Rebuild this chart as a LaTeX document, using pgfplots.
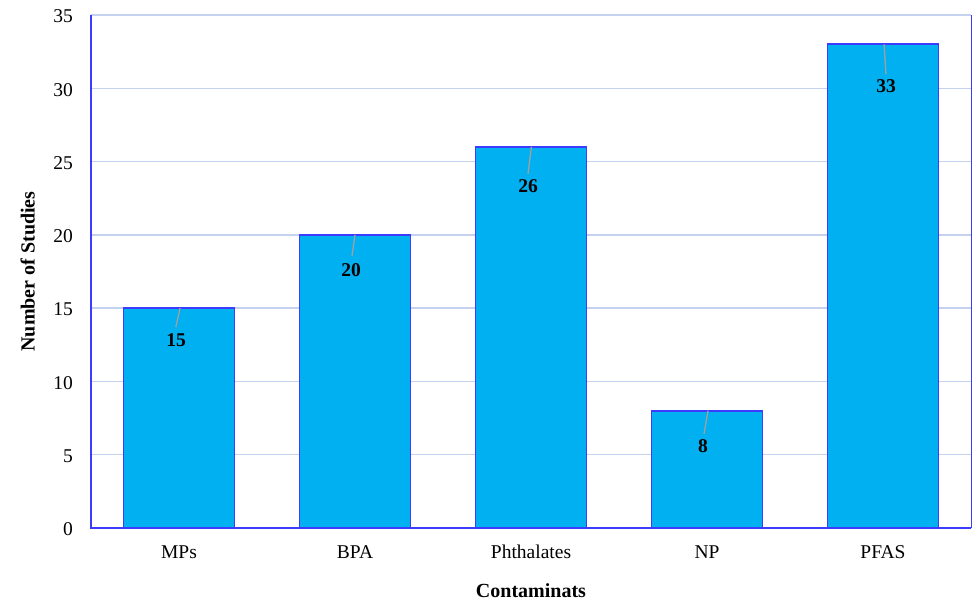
\documentclass[border=0pt]{standalone}
\usepackage{fontspec}
\setmainfont{Liberation Serif}
\usepackage{pgfplots}
\usepackage{pgfplotstable}
\pgfplotsset{compat=1.18}
\definecolor{barfill}{RGB}{0,176,240}
\definecolor{bordc}{RGB}{60,60,255}
\definecolor{gridc}{RGB}{196,210,240}
\definecolor{leadc}{RGB}{160,160,160}

\pgfplotstableread{
x y lx ly
0 15 -3 -32
1 20 -4 -35
2 26 -3 -39.5
3 8 -4 -35
4 33 3 -42
}\bars
\pgfplotstableread{
x y u v
0.006 15 -0.024 -1.30
1.0 20 -0.017 -1.43
2.002 26 -0.019 -1.84
3.006 8 -0.023 -1.57
4.006 33 0.011 -2.05
}\leads

\begin{document}
\begin{tikzpicture}
\begin{axis}[
 width=880pt, height=513pt, scale only axis,
 xmin=-0.5, xmax=4.5, ymin=0, ymax=35,
 xtick={0,...,4}, xticklabels={MPs,BPA,Phthalates,NP,PFAS},
 ytick={0,5,...,35},
 major tick length=0pt,
 ymajorgrids, grid style={gridc, line width=1.4pt},
 axis line style={draw=none},
 /pgf/number format/assume math mode=true,
 tick label style={font=\fontsize{19.5}{22}\selectfont},
 yticklabel style={anchor=east, inner sep=0pt, xshift=-18pt, yshift=-1.5pt},
 xticklabel style={anchor=base, yshift=-30pt},
 xlabel={Contaminats}, ylabel={Number of Studies},
 label style={font=\fontsize{20}{24}\selectfont\bfseries},
 xlabel style={at={(axis description cs:0.5,-0.1345)}, anchor=base},
 ylabel style={at={(axis description cs:-0.064,0.5)}, anchor=base},
 clip=false,
]
\addplot[ybar, bar width=0.63, fill=barfill, draw=bordc, line width=1.8pt,
 visualization depends on={\thisrow{lx}\as\lx},
 visualization depends on={\thisrow{ly}\as\ly},
 nodes near coords={\pgfmathprintnumber{\pgfplotspointmeta}},
 every node near coord/.append style={anchor=center, xshift=\lx pt, yshift=\ly pt,
   font=\fontsize{19.5}{22}\selectfont\bfseries, text=black},
] table[x=x,y=y] {\bars};
\addplot[leadc, line width=1.3pt, quiver={u=\thisrow{u}, v=\thisrow{v}}] table[x=x,y=y] {\leads};
\draw[bordc, line width=2.2pt] (rel axis cs:0,1) -- (rel axis cs:0,0) -- (rel axis cs:1,0);
\draw[bordc, line width=1pt] (rel axis cs:1,0) -- (rel axis cs:1,1);
\coordinate (sw) at (rel axis cs:0,0);
\coordinate (ne) at (rel axis cs:1,1);
\end{axis}
\pgfresetboundingbox
\path[use as bounding box] ([shift={(-91pt,-74pt)}]sw) rectangle ([shift={(2pt,15pt)}]ne);
\end{tikzpicture}
\end{document}
